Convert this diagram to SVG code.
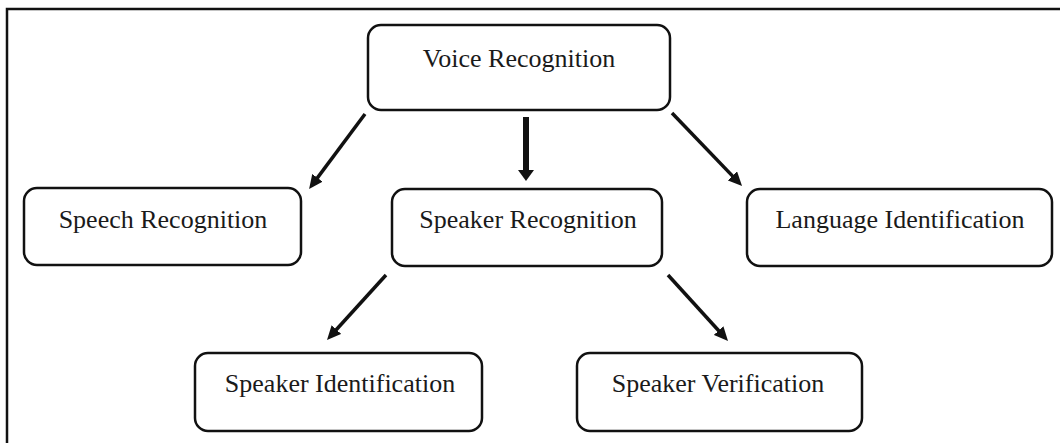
<svg xmlns="http://www.w3.org/2000/svg" width="1060" height="443" viewBox="0 0 1060 443">
  <style>
    .box { fill: #ffffff; stroke: #111111; stroke-width: 2.5; }
    .lbl { font-family: "Liberation Serif", "Times New Roman", serif; font-size: 26px; fill: #1a1a1a; text-anchor: middle; }
    .conn { stroke: #111111; stroke-width: 3.5; fill: none; }
    .thick { stroke: #111111; stroke-width: 6; fill: none; }
  </style>
  <defs>
    <marker id="ah" markerUnits="userSpaceOnUse" markerWidth="14" markerHeight="13" viewBox="0 0 14 13" refX="7" refY="6.5" orient="auto">
      <path d="M0,0 L14,6.5 L0,13 z" fill="#111111"/>
    </marker>
    <marker id="ahv" markerUnits="userSpaceOnUse" markerWidth="11" markerHeight="16" viewBox="0 0 11 16" refX="5" refY="8" orient="auto">
      <path d="M0,0 L11,8 L0,16 z" fill="#111111"/>
    </marker>
  </defs>
  <rect width="1060" height="443" fill="#ffffff"/>
  <path d="M7,443 L7,9 L1060,9" fill="none" stroke="#111111" stroke-width="2.5"/>

  <g id="connectors">
    <line class="conn" x1="365" y1="114" x2="313.3" y2="183.4" marker-end="url(#ah)"/>
    <line class="thick" x1="526" y1="117" x2="525.99" y2="175" marker-end="url(#ahv)"/>
    <line class="conn" x1="672" y1="113" x2="737.2" y2="180.9" marker-end="url(#ah)"/>
    <line class="conn" x1="386" y1="275" x2="331.7" y2="334.8" marker-end="url(#ah)"/>
    <line class="conn" x1="668" y1="275" x2="723.3" y2="335.8" marker-end="url(#ah)"/>
  </g>

  <g id="voice-recognition">
    <rect class="box" x="368" y="25" width="302" height="85" rx="13"/>
    <text class="lbl" x="519" y="67">Voice Recognition</text>
  </g>
  <g id="speech-recognition">
    <rect class="box" x="24" y="188" width="277" height="77" rx="13"/>
    <text class="lbl" x="163" y="228">Speech Recognition</text>
  </g>
  <g id="speaker-recognition">
    <rect class="box" x="392" y="189" width="270" height="77" rx="13"/>
    <text class="lbl" x="528" y="228">Speaker Recognition</text>
  </g>
  <g id="language-identification">
    <rect class="box" x="747" y="189" width="305" height="77" rx="13"/>
    <text class="lbl" x="900" y="228">Language Identification</text>
  </g>
  <g id="speaker-identification">
    <rect class="box" x="195" y="353" width="287" height="78" rx="13"/>
    <text class="lbl" x="340" y="392">Speaker Identification</text>
  </g>
  <g id="speaker-verification">
    <rect class="box" x="577" y="353" width="285" height="78" rx="13"/>
    <text class="lbl" x="718" y="392">Speaker Verification</text>
  </g>
</svg>
